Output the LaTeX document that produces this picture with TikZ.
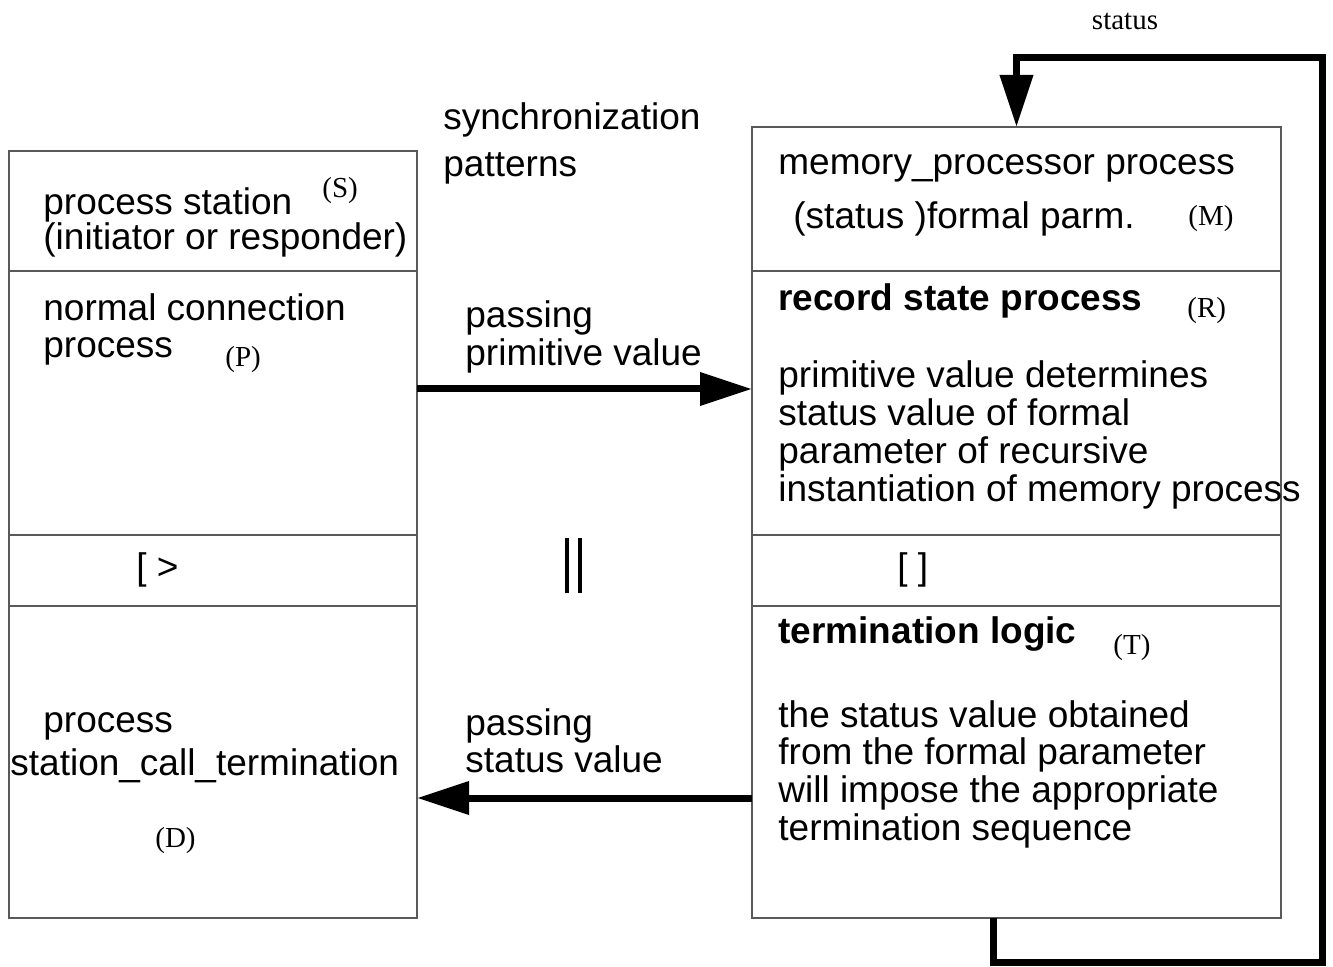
\documentclass[tikz,border=0pt]{standalone}
\usepackage{fontspec}
\setmainfont{Liberation Sans}
\newfontfamily\tms{Liberation Serif}
\usetikzlibrary{arrows.meta,positioning}

\newcommand{\stack}[1]{\begin{tabular}[t]{@{}l@{}}#1\end{tabular}}

\tikzset{
  cell/.style={draw=black!65, line width=0.75pt, anchor=north west, inner sep=0pt, outer sep=0pt},
  txt/.style={anchor=base west, inner sep=0pt, font=\fontsize{18.5}{18.5}\selectfont},
  txtb/.style={txt, font=\fontsize{18.5}{18.5}\selectfont\bfseries},
  tag/.style={anchor=base west, inner sep=0pt, font=\tms\fontsize{14.5}{16}\selectfont},
  flow/.style={line width=3.5pt, -{Triangle[length=26pt,width=16pt]}},
}

\begin{document}
\begin{tikzpicture}[x=0.5pt, y=-0.5pt]
  \useasboundingbox (0,0) rectangle (1333,967);

  % left column: station
  \node[cell, minimum width=204pt, minimum height=60pt] (sta) at (9,151) {};
  \node[cell, minimum width=204pt, minimum height=132pt] (nor) at (sta.south west) {};
  \node[cell, minimum width=204pt, minimum height=35.5pt] (seq) at (nor.south west) {};
  \node[cell, minimum width=204pt, minimum height=156pt] (trm) at (seq.south west) {};

  % right column: memory process
  \node[cell, minimum width=264.5pt, minimum height=72pt] (mem) at (752,127) {};
  \node[cell, minimum width=264.5pt, minimum height=132pt] (rec) at (mem.south west) {};
  \node[cell, minimum width=264.5pt, minimum height=35.5pt] (alt) at (rec.south west) {};
  \node[cell, minimum width=264.5pt, minimum height=156pt] (log) at (alt.south west) {};

  % texts, left
  \node[txt] (staT) at (43,215) {\stack{process station\\[-1.5pt](initiator or responder)}};
  \node[tag] (staL) at (322,198) {(S)};
  \node[txt] (norT) at (43,321) {\stack{normal connection\\process}};
  \node[tag] (norL) at (225,367) {(P)};
  \node[txt] (seqT) at (136,580) {[ >};
  \node[txt] (trmA) at (43,732) {process};
  \node[txt] (trmB) at (10,775) {station\_call\_termination};
  \node[tag] (trmL) at (155,847) {(D)};

  % texts, middle
  \node[txt] (sync) at (443,130) {\stack{synchronization\\[5pt]patterns}};
  \node[txt] (pPrim) at (465,328) {\stack{passing\\primitive value}};
  \node[txt] (pStat) at (465,735) {\stack{passing\\status value}};
  \node[inner sep=0pt] (par) at (573,566) {\rule{2pt}{27.5pt}\hspace{4.5pt}\rule{2pt}{27.5pt}};

  % texts, right
  \node[txt] (memA) at (778,175) {memory\_processor process};
  \node[txt] (memB) at (793,229) {(status )formal parm.};
  \node[tag] (memL) at (1188,226) {(M)};
  \node[txtb] (recT) at (778,311) {record state process};
  \node[tag] (recL) at (1187,318) {(R)};
  \node[txt] (recD) at (778,388) {\stack{primitive value determines\\status value of formal\\parameter of recursive\\instantiation of memory process}};
  \node[txt] (altT) at (897,580) {[ ]};
  \node[txtb] (logT) at (778,643) {termination logic};
  \node[tag] (logL) at (1113,654) {(T)};
  \node[txt] (logD) at (778,727) {\stack{the status value obtained\\from the formal parameter\\will impose the appropriate\\termination sequence}};
  \node[tag, anchor=base] (loopL) at (1125,30) {status};

  % arrows
  \draw[flow] ([yshift=7pt]nor.east) -- ([yshift=7pt]rec.west);
  \draw[flow] ([yshift=-18pt]log.west) -- ([yshift=-18pt]trm.east);
  \coordinate (loopSE) at (1322,962);
  \coordinate (loopNE) at (1322,58);
  \draw[flow] ([xshift=-11.75pt]log.south) |- (loopSE) -- (loopNE) -| (mem.north);
\end{tikzpicture}
\end{document}
